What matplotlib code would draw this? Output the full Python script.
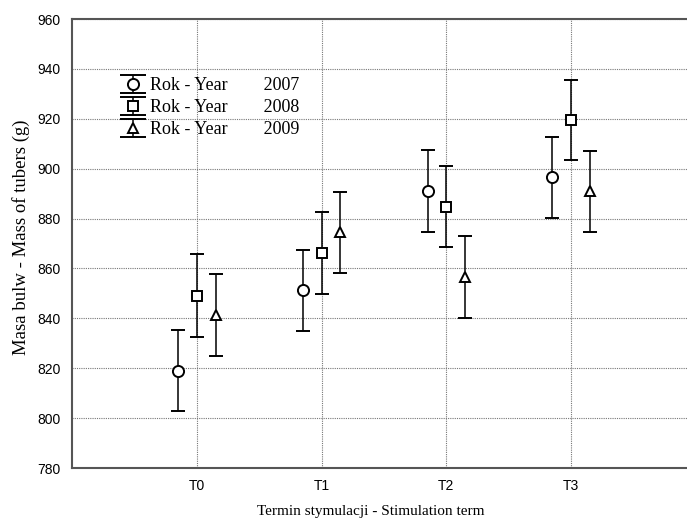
import numpy as np
import matplotlib
matplotlib.use("Agg")
import matplotlib.pyplot as plt

# ---------------------------
# data
# ---------------------------
terms = ["T0", "T1", "T2", "T3"]
years = ["2007", "2008", "2009"]
mass_2007 = [819.0, 851.3, 891.0, 896.5]
mass_2008 = [849.1, 866.3, 884.7, 919.5]
mass_2009 = [841.3, 874.5, 856.7, 891.0]
err_2007 = [16.3, 16.2, 16.4, 16.3]
err_2008 = [16.5, 16.4, 16.3, 16.2]
err_2009 = [16.3, 16.3, 16.4, 16.2]

series = [
    (mass_2007, err_2007, "o", 8.0, -0.15),
    (mass_2008, err_2008, "s", 6.5, 0.0),
    (mass_2009, err_2009, "^", 7.5, 0.15),
]

fig = plt.figure(figsize=(6.87, 5.24), dpi=100)
W, H = 687, 524
ax = fig.add_axes([72 / W, (H - 468) / H, (696 - 72) / W, (468 - 19) / H])

x = np.arange(len(terms))
style = dict(mfc="white", mec="black", mew=1.4, ecolor="black",
             elinewidth=1.1, capthick=1.1, color="black")
handles = []
for (vals, errs, mk, ms, off), yr in zip(series, years):
    ax.errorbar(x + off, vals, yerr=errs, fmt=mk, ms=ms, capsize=4.7, **style)
    # legend proxy with wider caps, like the original key
    h = ax.errorbar([np.nan], [np.nan], yerr=[1], fmt=mk, ms=ms, capsize=9.5,
                    label=f"Rok - Year        {yr}", **style)
    handles.append(h)

ax.set_xlim(-1, 4)
ax.set_ylim(780, 960)
ax.set_yticks(np.arange(780, 961, 20))
ax.set_xticks(x)
ax.set_xticklabels(terms)
ax.grid(True, linestyle=(0, (1, 1)), color="#777777", linewidth=0.8)
ax.set_axisbelow(True)
ax.tick_params(length=0, labelsize=10, pad=8)
for lab in ax.get_xticklabels() + ax.get_yticklabels():
    lab.set_family("Liberation Sans")

for s in ax.spines.values():
    s.set_color("#555555")
    s.set_linewidth(1.5)

ax.set_xlabel("Termin stymulacji - Stimulation term", family="Liberation Serif",
              fontsize=11)
ax.set_ylabel("Masa bulw - Mass of tubers (g)", family="Liberation Serif",
              fontsize=13.5)
ax.xaxis.set_label_coords(0.478, -0.083)
ax.yaxis.set_label_coords(-0.067, 0.515)

ax.legend(handles=handles, loc="upper left", bbox_to_anchor=(0.074, 0.87),
          frameon=False, prop={"family": "Liberation Serif", "size": 13},
          handlelength=1.6, handletextpad=0.15, labelspacing=0.27,
          borderaxespad=0, borderpad=0)

plt.savefig("out.png", dpi=100)
